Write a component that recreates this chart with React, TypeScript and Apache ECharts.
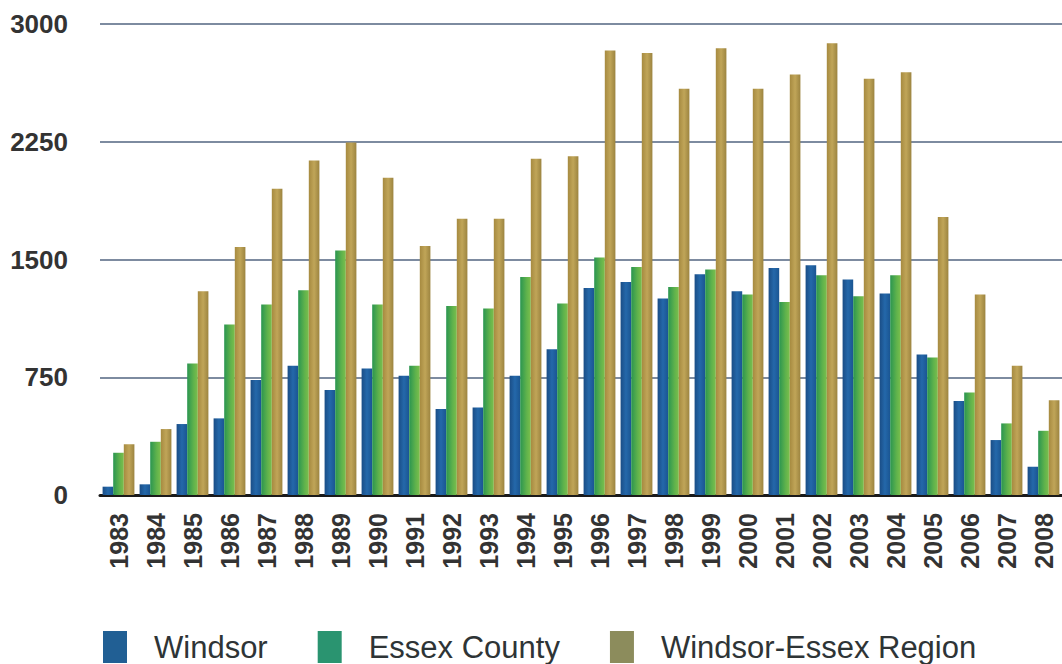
import React, { useEffect, useRef } from "react";
import * as echarts from "echarts";

const years = [
  "1983", "1984", "1985", "1986", "1987", "1988", "1989", "1990", "1991", "1992", "1993", "1994", "1995",
  "1996", "1997", "1998", "1999", "2000", "2001", "2002", "2003", "2004", "2005", "2006", "2007", "2008",
];
const windsor = [53, 68, 452, 488, 732, 823, 668, 806, 759, 547, 558, 759, 929, 1319, 1357, 1251, 1406, 1298, 1446, 1463, 1372, 1283, 895, 598, 350, 180];
const essexCounty = [269, 339, 838, 1086, 1213, 1304, 1558, 1213, 823, 1204, 1188, 1389, 1219, 1512, 1452, 1325, 1436, 1277, 1230, 1399, 1266, 1399, 876, 653, 456, 409];
const region = [324, 420, 1298, 1580, 1951, 2131, 2245, 2021, 1586, 1760, 1760, 2142, 2158, 2831, 2816, 2587, 2846, 2587, 2678, 2877, 2651, 2693, 1770, 1277, 823, 604];
const yTicks = [0, 750, 1500, 2250, 3000];

const grad = (stops: [number, string][]) =>
  new echarts.graphic.LinearGradient(0, 0, 1, 0, stops.map(([offset, color]) => ({ offset, color })));

export default function App() {
  const ref = useRef<HTMLDivElement>(null);
  useEffect(() => {
    if (!ref.current) return;
    const chart = echarts.init(ref.current, null, { renderer: "svg" });
    const font = "'Liberation Sans', Arial, sans-serif";
    chart.setOption({
      animation: false,
      backgroundColor: "#ffffff",
      grid: { left: 100, right: -13, top: 24, bottom: 169, containLabel: false },
      legend: {
        left: 98,
        top: 626,
        itemWidth: 24,
        itemHeight: 32,
        itemGap: 50,
        icon: "rect",
        textStyle: { fontFamily: font, fontSize: 31, color: "#2e3436", padding: [0, 0, 0, 22] },
        data: [
          { name: "Windsor", itemStyle: { color: "#215f94" } },
          { name: "Essex County", itemStyle: { color: "#2a9470" } },
          { name: "Windsor-Essex Region", itemStyle: { color: "#8c8c5c" } },
        ],
      },
      xAxis: {
        type: "category",
        data: years,
        axisLine: { show: true, lineStyle: { color: "#1a1a1a", width: 3 } },
        axisTick: { show: false },
        axisLabel: {
          rotate: 90,
          margin: 18,
          fontFamily: font,
          fontSize: 25,
          fontWeight: "bold",
          color: "#333",
          interval: 0,
        },
      },
      yAxis: {
        type: "value",
        min: 0,
        max: 3000,
        interval: 750,
        axisLine: { show: false },
        axisTick: { show: false },
        splitLine: { lineStyle: { color: "#7d8ba0", width: 2 } },
        axisLabel: {
          margin: 32,
          fontFamily: font,
          fontSize: 26,
          fontWeight: "bold",
          color: "#333",
          formatter: (v: number) => (yTicks.includes(v) ? String(v) : ""),
        },
      },
      series: [
        {
          name: "Windsor",
          type: "bar",
          data: windsor,
          barGap: "0%",
          barCategoryGap: "14%",
          itemStyle: { color: grad([[0, "#1a4d86"], [0.5, "#2468aa"], [1, "#1a5592"]]) },
        },
        {
          name: "Essex County",
          type: "bar",
          data: essexCounty,
          barGap: "0%",
          barCategoryGap: "14%",
          itemStyle: { color: grad([[0, "#2a9550"], [0.6, "#5fb24c"], [1, "#7cbf4c"]]) },
        },
        {
          name: "Windsor-Essex Region",
          type: "bar",
          data: region,
          barGap: "0%",
          barCategoryGap: "14%",
          itemStyle: { color: grad([[0, "#a68a40"], [0.5, "#c0a558"], [1, "#9c8440"]]) },
        },
      ],
    });
    return () => chart.dispose();
  }, []);
  return <div ref={ref} style={{ width: 1062, height: 664, position: "absolute", left: 0, top: 0 }} />;
}
